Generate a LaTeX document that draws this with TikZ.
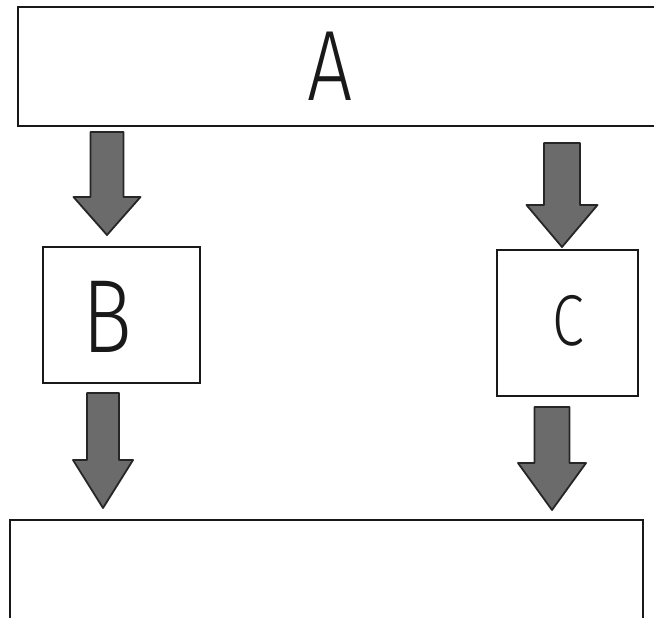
\documentclass[tikz,border=0pt]{standalone}
\usepackage{fontspec}
\setsansfont{Fira Sans}[UprightFont=* Light]
\begin{document}
\begin{tikzpicture}[x=1pt,y=-1pt,
  boxsty/.style={draw=black!90, line width=2.8pt, rectangle, inner sep=0pt},
  smallbox/.style={draw=black!90, line width=2.2pt, rectangle, inner sep=0pt},
  letter/.style={font=\sffamily, text=black!90, inner sep=0pt, xscale=0.8},
  arrowsty/.style={fill=black!58, draw=black!85, line width=1.8pt, line join=round}]
\useasboundingbox (0,0) rectangle (654,618);
\newcommand\blockarr[6]{%
  \filldraw[arrowsty] (#1-#5,#2) -- (#1+#5,#2) -- (#1+#5,#3) -- (#1+#6,#3)
    -- (#1,#4) -- (#1-#6,#3) -- (#1-#5,#3) -- cycle;}
% boxes
\node[boxsty, minimum width=662pt, minimum height=119pt] (A) at (349,66.5) {};
\node[letter, font=\sffamily\fontsize{100}{100}\selectfont] (Atext) at (330,66) {A};
\node[smallbox, minimum width=157pt, minimum height=136pt] (B) at (121.5,315) {};
\node[letter, font=\sffamily\fontsize{104}{104}\selectfont] (Btext) at (107,317) {B};
\node[smallbox, minimum width=141pt, minimum height=146pt] (C) at (567.5,323) {};
\node[letter, font=\sffamily\fontsize{72}{72}\selectfont] (Ctext) at (568,321) {C};
\node[boxsty, minimum width=633pt, minimum height=180pt] (D) at (326.5,610) {};
% block arrows
\blockarr{107}{132}{197}{235}{16.5}{33.5}
\blockarr{562}{143}{205}{247}{18}{35.5}
\blockarr{103}{393}{460}{508}{16}{30}
\blockarr{552}{407}{463}{510}{17.5}{34}
\end{tikzpicture}
\end{document}
